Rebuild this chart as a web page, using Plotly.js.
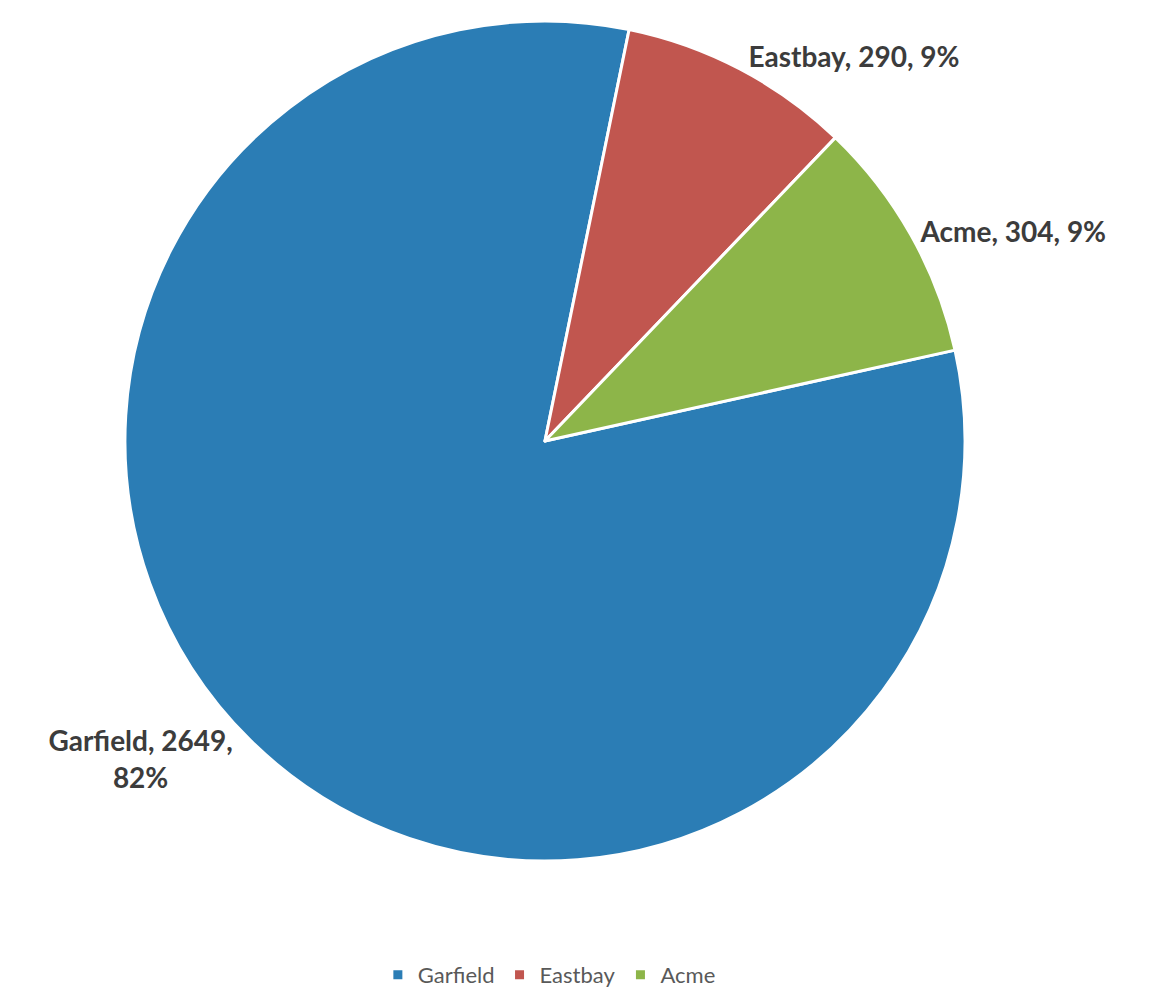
<!DOCTYPE html>
<html>
<head>
<meta charset="utf-8">
<script src="https://cdn.plot.ly/plotly-3.0.1.min.js"></script>
<style>html,body{margin:0;padding:0;background:#fff;}#chart{width:1159px;height:1004px;}</style>
</head>
<body>
<div id="chart"></div>
<script>
const categories = ["Garfield", "Eastbay", "Acme"];
const values = [2649, 290, 304];
const colors = ["#2B7DB5", "#C1564F", "#8DB549"];
const labelTemplates = [
  "%{label}, %{value},<br>%{percent:.0%}",
  "%{label}, %{value}, %{percent:.0%}",
  "%{label}, %{value}, %{percent:.0%}"
];

const trace = {
  type: "pie",
  labels: categories,
  values: values,
  sort: false,
  direction: "clockwise",
  rotation: 77.5,
  marker: { colors: colors, line: { color: "#ffffff", width: 3 } },
  texttemplate: labelTemplates,
  textposition: "outside",
  textfont: { family: "Lato, 'Open Sans', sans-serif", size: 28, color: "#3c3c3c", weight: "bold" },
  domain: { x: [0.1078, 0.8326], y: [0.1424, 0.9791] },
  hoverinfo: "label+value+percent"
};

const layout = {
  width: 1159,
  height: 1004,
  margin: { l: 0, r: 0, t: 0, b: 0 },
  paper_bgcolor: "#ffffff",
  showlegend: true,
  legend: {
    orientation: "h",
    x: 0.474, xanchor: "center",
    y: 0.029, yanchor: "middle",
    font: { family: "Lato, 'Open Sans', sans-serif", size: 22, color: "#595959" },
    itemwidth: 30
  }
};

Plotly.newPlot("chart", [trace], layout, { displayModeBar: false, staticPlot: true });
</script>
</body>
</html>
